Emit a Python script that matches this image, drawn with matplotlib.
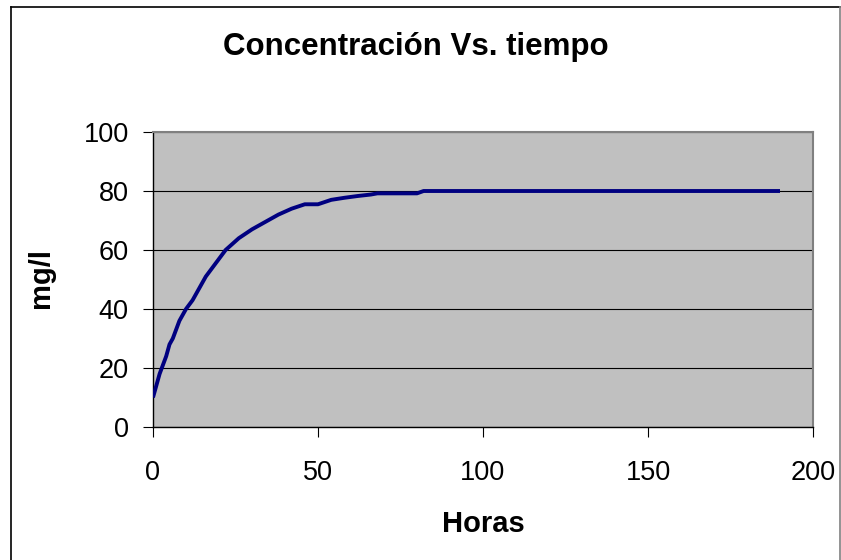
import matplotlib
matplotlib.use("Agg")
import matplotlib.pyplot as plt
from matplotlib.lines import Line2D

plt.rcParams['font.family'] = ['Liberation Sans', 'DejaVu Sans']

# data
horas = [0, 1, 2, 3, 4, 5, 6, 7, 8, 9, 10, 12, 14, 16, 18, 20, 22, 24, 26, 28,
         30, 34, 38, 42, 46, 50, 54, 58, 62, 66, 68, 80, 82, 100, 190]
conc = [10, 14, 18, 21, 24, 28, 30, 33, 36, 38, 40, 43, 47, 51, 54, 57, 60, 62, 64, 65.5,
        67, 69.5, 72, 74, 75.5, 75.5, 77, 77.7, 78.3, 78.8, 79.2, 79.2, 80, 80, 80]
xticks = [0, 50, 100, 150, 200]
yticks = [0, 20, 40, 60, 80, 100]

W, H = 841, 560
fig = plt.figure(figsize=(W / 100, H / 100), dpi=100)

#chart border (Excel style)
fig.add_artist(Line2D([11 / W, 11 / W], [0, 1 - 7 / H], color='black', lw=1.2))
fig.add_artist(Line2D([11 / W, 840 / W], [1 - 7 / H, 1 - 7 / H], color='black', lw=1.2))
fig.add_artist(Line2D([840 / W, 840 / W], [0, 1 - 7 / H], color='#808080', lw=1.2))

#plot area
ax = fig.add_axes([153 / W, 1 - 427 / H, (813 - 153) / W, (427 - 132) / H])
ax.set_facecolor('#c0c0c0')
ax.plot(horas, conc, color='#000080', lw=2.8, solid_capstyle='butt', zorder=3)

ax.set_xlim(0, 200)
ax.set_ylim(0, 100)
ax.set_xticks(xticks)
ax.set_yticks(yticks)
ax.yaxis.grid(True, color='black', lw=0.8)
ax.set_axisbelow(True)

for s in ['top', 'right']:
    ax.spines[s].set_color('#808080')
    ax.spines[s].set_linewidth(1.5)
for s in ['left', 'bottom']:
    ax.spines[s].set_color('black')
    ax.spines[s].set_linewidth(1.0)

ax.tick_params(axis='both', direction='out', length=7, width=0.8, labelsize=19.5)
ax.tick_params(axis='x', pad=17)
ax.tick_params(axis='y', pad=10.5)

#labels and title
fig.text(416 / W, 1 - 55 / H, 'Concentración Vs. tiempo', ha='center', va='baseline',
         fontsize=22.5, fontweight='bold')
fig.text(41 / W, 1 - 278 / H, 'mg/l', ha='center', va='center', rotation=90,
         fontsize=21, fontweight='bold')
fig.text(483 / W, 1 - 524 / H, 'Horas', ha='center', va='center',
         fontsize=21, fontweight='bold')

fig.savefig('out.png', dpi=100)
